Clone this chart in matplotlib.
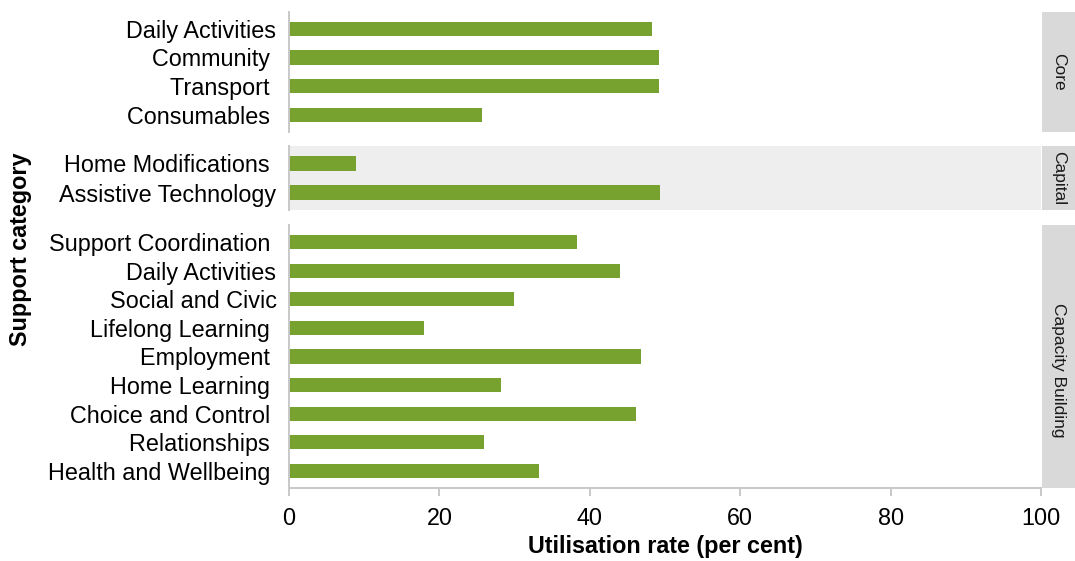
import matplotlib
matplotlib.use("Agg")
import matplotlib.pyplot as plt

plt.rcParams['font.family'] = ['Liberation Sans', 'DejaVu Sans']

# data
core_labels = ["Daily Activities", "Community ", "Transport ", "Consumables "]
core_values = [48.3, 49.2, 49.2, 25.7]

capital_labels = ["Home Modifications ", "Assistive Technology"]
capital_values = [8.9, 49.3]

capacity_labels = ["Support Coordination ", "Daily Activities", "Social and Civic",
                   "Lifelong Learning ", "Employment ", "Home Learning ",
                   "Choice and Control ", "Relationships ", "Health and Wellbeing "]
capacity_values = [38.3, 44.0, 29.9, 18.0, 46.8, 28.2, 46.2, 25.9, 33.3]

facet_names = ["Core", "Capital", "Capacity Building"]
x_ticks = [0, 20, 40, 60, 80, 100]

bar_color = "#78A22F"
axis_color = "#C8C8C8"
strip_color = "#D9D9D9"
fs = 16.8

W, H = 1075, 561
fig = plt.figure(figsize=(W / 100, H / 100), dpi=100)


def frac(x0, y0, x1, y1):
    # pixel box -> figure fraction
    return [x0 / W, 1 - y1 / H, (x1 - x0) / W, (y1 - y0) / H]


panels = [
    (core_labels, core_values, 11.5, 132, "white", 0.5),
    (capital_labels, capital_values, 146, 210, "#EEEEEE", 0.5),
    (capacity_labels, capacity_values, 225, 488, "white", 0.447),
]

for i, (labels, values, top, bottom, bg, text_y) in enumerate(panels):
    ax = fig.add_axes(frac(289, top, 1041, bottom))
    ax.set_facecolor(bg)
    pos = list(range(len(labels)))
    ax.barh(pos, values, height=0.5, color=bar_color)
    ax.set_ylim(len(labels) - 0.4, -0.6)
    ax.set_xlim(0, 100)
    ax.set_yticks(pos)
    ax.set_yticklabels(labels, fontsize=fs)
    ax.tick_params(axis="y", length=0, pad=9)
    for s in ["top", "right"]:
        ax.spines[s].set_visible(False)
    ax.spines["left"].set_color(axis_color)
    ax.spines["left"].set_linewidth(1.4)
    if i == 2:
        ax.spines["bottom"].set_color(axis_color)
        ax.spines["bottom"].set_linewidth(1.4)
        ax.set_xticks(x_ticks)
        ax.set_xticklabels([str(t) for t in x_ticks], fontsize=fs)
        ax.tick_params(axis="x", length=6, width=1.4, color=axis_color, pad=8)
        ax.set_xlabel("Utilisation rate (per cent)", fontsize=fs, fontweight="bold", labelpad=3)
    else:
        ax.spines["bottom"].set_visible(False)
        ax.set_xticks([])

    sax = fig.add_axes(frac(1042, top, 1075, bottom))
    sax.set_facecolor(strip_color)
    sax.set_xticks([])
    sax.set_yticks([])
    for s in sax.spines.values():
        s.set_visible(False)
    sax.text(0.5, text_y, facet_names[i], rotation=270, ha="center", va="center",
             fontsize=12.5, color="#1A1A1A", transform=sax.transAxes)

fig.text(21 / W, 1 - 249 / H, "Support category", rotation=90, ha="center", va="center",
         fontsize=fs, fontweight="bold")

fig.savefig("out.png", dpi=100)
